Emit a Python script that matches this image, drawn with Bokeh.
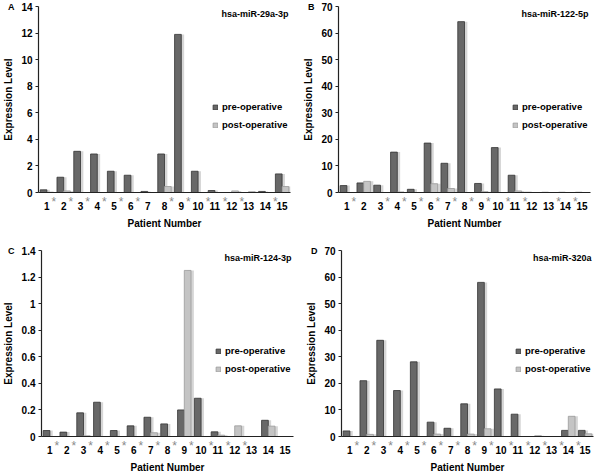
from bokeh.plotting import figure
from bokeh.models import (ColumnDataSource, Range1d, FixedTicker, NumeralTickFormatter,
                          PrintfTickFormatter, Legend, LegendItem, Label, LinearAxis)
from bokeh.transform import dodge
from bokeh.layouts import column, row
from bokeh.embed import file_html
from bokeh.resources import INLINE

patients = list(range(1, 16))

# Panel A: hsa-miR-29a-3p
a_pre = [0.2, 1.15, 3.1, 2.9, 1.6, 1.3, 0.08, 2.9, 11.9, 1.6, 0.15, 0.0, 0.0, 0.08, 1.4]
a_post = [0.02, 0.12, 0.0, 0.0, 0.0, 0.0, 0.0, 0.45, 0.0, 0.0, 0.0, 0.12, 0.06, 0.0, 0.45]
a_star = [1, 1, 1, 1, 1, 1, 0, 1, 1, 1, 1, 1, 0, 1, 1]

# Panel B: hsa-miR-122-5p
b_pre = [2.6, 3.6, 2.75, 15.2, 1.2, 18.6, 11.0, 64.3, 3.4, 16.9, 6.5, 0.05, 0.05, 0.05, 0.05]
b_post = [0.0, 4.2, 0.0, 0.2, 0.0, 3.3, 1.5, 0.0, 0.3, 0.0, 0.6, 0.0, 0.0, 0.0, 0.0]
b_star = [1, 0, 1, 1, 1, 1, 1, 1, 1, 1, 1, 0, 1, 1, 0]

# Panel C: hsa-miR-124-3p
c_pre = [0.045, 0.033, 0.178, 0.258, 0.045, 0.08, 0.145, 0.095, 0.2, 0.288, 0.035, 0.0, 0.0, 0.122, 0.0]
c_post = [0.0, 0.0, 0.005, 0.0, 0.0, 0.0, 0.028, 0.0, 1.25, 0.0, 0.01, 0.08, 0.0, 0.078, 0.0]
c_star = [1, 1, 1, 1, 1, 1, 1, 1, 1, 1, 1, 1, 0, 0, 0]

# Panel D: hsa-miR-320a
d_pre = [2.1, 21.0, 36.2, 17.3, 28.1, 5.4, 3.1, 12.3, 58.0, 17.9, 8.4, 0.0, 0.0, 2.3, 2.3]
d_post = [0.0, 0.8, 0.0, 0.0, 0.0, 0.9, 0.0, 0.9, 2.9, 0.0, 0.0, 0.3, 0.0, 7.6, 1.0]
d_star = [1] * 15

FONT = "Liberation Sans"
PRE_COL = "#686868"
POST_COL = "#c4c4c4"
SHADOW = "#d6d6d6"
AXC = "#222222"
FW, FH = 252, 186


def style_text(ax, size="10px"):
    ax.major_label_text_font = FONT
    ax.major_label_text_font_style = "bold"
    ax.major_label_text_font_size = size
    ax.major_label_text_color = "black"
    ax.axis_label_text_font = FONT
    ax.axis_label_text_font_style = "bold"
    ax.axis_label_text_font_size = "10px"
    ax.axis_label_text_color = "black"
    ax.minor_tick_line_color = None


def make_panel(letter, title, pre, post, stars, ymax, ystep, fmt, bl, br, bt, bb):
    p = figure(frame_width=FW, frame_height=FH, x_range=Range1d(0.5, 15.5),
               y_range=Range1d(0, ymax), output_backend="svg", toolbar_location=None,
               x_axis_location=None, y_axis_location=None,
               min_border_left=bl, min_border_right=br, min_border_top=bt, min_border_bottom=bb)
    p.outline_line_color = None
    p.grid.visible = False

    src = ColumnDataSource(dict(pt=patients, pre=pre, post=post))
    p.vbar(x=dodge("pt", -0.2 + 0.17), top="pre", width=0.4, source=src,
           fill_color=SHADOW, line_color=None)
    p.vbar(x=dodge("pt", 0.2 + 0.17), top="post", width=0.4, source=src,
           fill_color=SHADOW, line_color=None)
    r1 = p.vbar(x=dodge("pt", -0.2), top="pre", width=0.4, source=src,
                fill_color=PRE_COL, line_color="#333333", line_width=0.8)
    r2 = p.vbar(x=dodge("pt", 0.2), top="post", width=0.4, source=src,
                fill_color=POST_COL, line_color="#9a9a9a", line_width=0.8)

    # ---- y axis (numbers)
    nt = int(round(ymax / ystep))
    yax = LinearAxis(ticker=FixedTicker(ticks=[round(i * ystep, 3) for i in range(nt + 1)]),
                     formatter=NumeralTickFormatter(format=fmt))
    style_text(yax)
    yax.axis_line_color = AXC
    yax.axis_line_width = 1.2
    yax.major_tick_out = 3
    yax.major_tick_in = 0
    yax.major_tick_line_color = AXC
    yax.major_label_standoff = 3
    p.add_layout(yax, "left")

    # ---- panel letter + y title
    p.extra_y_ranges = {"letter": Range1d(0, 1)}
    lax = LinearAxis(y_range_name="letter", ticker=FixedTicker(ticks=[1]),
                     major_label_overrides={1: letter}, axis_label="Expression Level")
    style_text(lax, "9px")
    lax.axis_line_color = None
    lax.major_tick_line_color = None
    lax.major_tick_out = 0
    lax.major_tick_in = 0
    lax.major_label_standoff = 4
    lax.axis_label_standoff = -9
    p.add_layout(lax, "left")

    # ---- x axis: asterisks (nearest the frame) then patient numbers
    spos = [round(pt + (0.42 if pt < 10 else 0.6), 3) for pt, s in zip(patients, stars) if s]
    sax = LinearAxis(ticker=FixedTicker(ticks=spos), formatter=PrintfTickFormatter(format="*"))
    style_text(sax, "12px")
    sax.major_label_text_font_style = "normal"
    sax.major_label_text_color = "#8a8a8a"
    sax.axis_line_color = AXC
    sax.axis_line_width = 1.2
    sax.major_tick_line_color = None
    sax.major_tick_out = 0
    sax.major_tick_in = 0
    sax.major_label_standoff = 2
    p.add_layout(sax, "below")

    xax = LinearAxis(ticker=FixedTicker(ticks=patients), axis_label="Patient Number",
                     formatter=NumeralTickFormatter(format="0"))
    style_text(xax)
    xax.axis_line_color = None
    xax.major_tick_line_color = None
    xax.major_tick_out = 0
    xax.major_tick_in = 0
    xax.major_label_standoff = -10
    xax.axis_label_standoff = 5
    p.add_layout(xax, "below")

    # ---- legend
    leg = Legend(items=[LegendItem(label="pre-operative", renderers=[r1]),
                        LegendItem(label="post-operative", renderers=[r2])],
                 location=(FW - 78, 62), glyph_width=6, glyph_height=6, label_height=10,
                 label_standoff=4, spacing=7, padding=0, margin=0,
                 background_fill_alpha=0, border_line_color=None,
                 label_text_font=FONT, label_text_font_style="bold",
                 label_text_font_size="9.5px", label_text_color="black")
    p.add_layout(leg)

    p.add_layout(Label(x=FW - 2, y=FH - 2, x_units="screen", y_units="screen", text=title,
                       text_align="right", text_baseline="top", text_font=FONT,
                       text_font_style="bold", text_font_size="9px", text_color="black"))
    return p


pA = make_panel("A", "hsa-miR-29a-3p", a_pre, a_post, a_star, 14, 2, "0", 28, 10, 6, 42)
pB = make_panel("B", "hsa-miR-122-5p", b_pre, b_post, b_star, 70, 10, "0", 36, 4, 6, 42)
pC = make_panel("C", "hsa-miR-124-3p", c_pre, c_post, c_star, 1.4, 0.2, "0.[0]", 28, 10, 16, 32)
pD = make_panel("D", "hsa-miR-320a", d_pre, d_post, d_star, 70, 10, "0", 36, 4, 16, 32)

layout = column(row(pA, pB), row(pC, pD))
open("out.html", "w").write(file_html(layout, INLINE))
